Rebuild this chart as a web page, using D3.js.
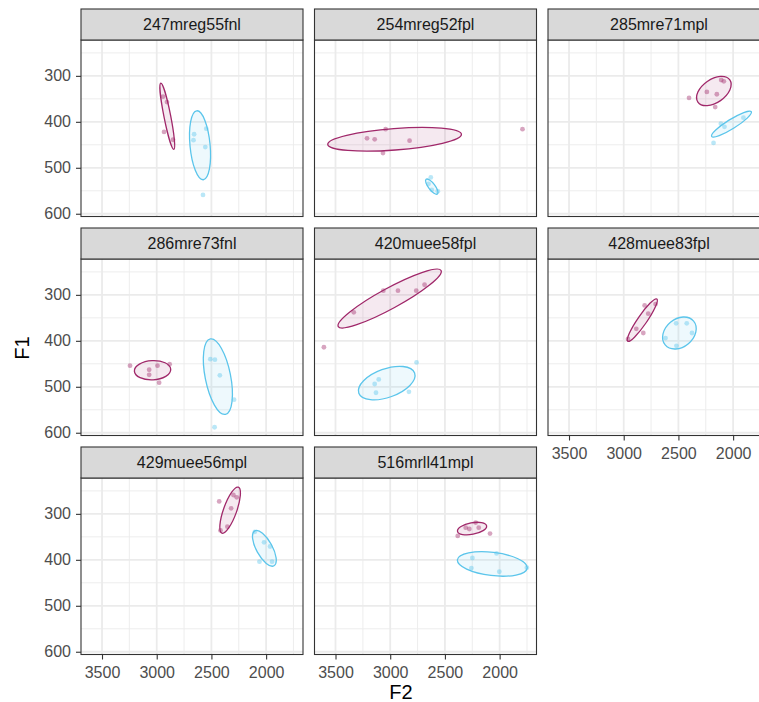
<!DOCTYPE html>
<html>
<head>
<meta charset="utf-8">
<script src="https://cdn.jsdelivr.net/npm/d3@7"></script>
<style>
  html, body { margin: 0; padding: 0; background: #fff; }
  svg { display: block; font-family: "Liberation Sans", Arial, sans-serif; }
</style>
</head>
<body>
<svg id="chart" width="759" height="702"></svg>
<script>
// ---------------- data ----------------
const panels = ["247mreg55fnl","254mreg52fpl","285mre71mpl","286mre73fnl",
                "420muee58fpl","428muee83fpl","429muee56mpl","516mrll41mpl"];

const xTicks = [3500, 3000, 2500, 2000];
const xMinorTicks = [3250, 2750, 2250, 1750];
const yTicks = [300, 400, 500, 600];
const yMinorTicks = [250, 350, 450, 550];

// group A (purple) points per panel
const groupA_F2 = [
  [2942, 2906, 2933, 2851],
  [3212, 3142, 3042, 2823, 3066, 1791],
  [2403, 2240, 2149, 2164, 2109, 2085],
  [3244, 3069, 3069, 2993, 2882, 2978],
  [3333, 3063, 2929, 2762, 2686, 3606],
  [2961, 2885, 2821, 2776, 2809, 2709],
  [2429, 2320, 2299, 2269, 2354, 2417],
  [2383, 2310, 2277, 2219, 2191, 2088]
];
const groupA_F1 = [
  [345, 357, 422, 439],
  [436, 438, 416, 441, 468, 416],
  [348, 335, 340, 368, 309, 312],
  [454, 463, 474, 454, 451, 491],
  [338, 291, 291, 291, 278, 414],
  [396, 374, 383, 341, 323, 320],
  [273, 288, 259, 264, 328, 336],
  [348, 330, 333, 319, 330, 343]
];

// group B (blue) points per panel
const groupB_F2 = [
  [2547, 2658, 2664, 2556, 2577],
  [2650, 2620, 2629, 2565],
  [1906, 2079, 2112, 2179],
  [2510, 2468, 2423, 2293, 2471],
  [2759, 3105, 3142, 3130, 2829],
  [2521, 2424, 2376, 2618, 2518],
  [2103, 2019, 1964, 1946, 2061],
  [2249, 2258, 2028, 2003, 1751]
];
const groupB_F1 = [
  [415, 427, 440, 455, 559],
  [535, 548, 521, 551],
  [391, 411, 404, 446],
  [440, 441, 475, 528, 588],
  [447, 484, 494, 513, 511],
  [362, 362, 383, 394, 411],
  [339, 362, 371, 404, 404],
  [396, 418, 386, 426, 417]
];

// ellipses: centre, end of major axis (data units), minor/major ratio
const ellA_cF2 = [2903, 2960, 2176, 3038, 3005, 2830, 2329, 2252];
const ellA_cF1 = [388, 438, 333, 464, 308, 355, 292, 332];
const ellA_eF2 = [2963, 2349, 2030, 2872, 2535, 2697, 2254, 2119];
const ellA_eF1 = [316, 427, 309, 462, 247, 309, 242, 326];
const ellA_ratio = [0.1, 0.16, 0.6, 0.53, 0.175, 0.18, 0.27, 0.39];

const ellB_cF2 = [2604, 2620, 2015, 2441, 3032, 2491, 2016, 2067];
const ellB_cF1 = [451, 541, 405, 478, 492, 383, 375, 409];
const ellB_eF2 = [2634, 2568, 1834, 2510, 2777, 2361, 1928, 1748];
const ellB_eF1 = [376, 557, 378, 396, 470, 357, 413, 418];
const ellB_ratio = [0.29, 0.35, 0.2, 0.33, 0.48, 0.75, 0.4, 0.33];

// ---------------- layout ----------------
const colA = "#A0286A", colB = "#5BC5EB";
const svg = d3.select("#chart");
const panelW = 222, panelH = 176.5, stripH = 31;
const colLeft = [81, 314.5, 548];
const rowTop = [40, 259, 478];

const x = d3.scaleLinear().domain([3692, 1663]).range([0, panelW]);
const y = d3.scaleLinear().domain([222, 606]).range([0, panelH]);
const fmt = d3.format("d");

const defs = svg.append("defs");
defs.append("clipPath").attr("id", "pclip")
  .append("rect").attr("width", panelW).attr("height", panelH);

panels.forEach((name, i) => {
  const c = i % 3, r = Math.floor(i / 3);
  const g = svg.append("g").attr("transform", `translate(${colLeft[c]},${rowTop[r]})`);

  g.append("rect").attr("width", panelW).attr("height", panelH).attr("fill", "#fff");

  const grid = g.append("g");
  grid.selectAll(".vmin").data(xMinorTicks).join("line")
    .attr("x1", d => x(d)).attr("x2", d => x(d)).attr("y1", 0).attr("y2", panelH)
    .attr("stroke", "#EBEBEB").attr("stroke-width", 0.9);
  grid.selectAll(".hmin").data(yMinorTicks).join("line")
    .attr("y1", d => y(d)).attr("y2", d => y(d)).attr("x1", 0).attr("x2", panelW)
    .attr("stroke", "#EBEBEB").attr("stroke-width", 0.9);
  grid.selectAll(".vmaj").data(xTicks).join("line")
    .attr("x1", d => x(d)).attr("x2", d => x(d)).attr("y1", 0).attr("y2", panelH)
    .attr("stroke", "#EBEBEB").attr("stroke-width", 1.8);
  grid.selectAll(".hmaj").data(yTicks).join("line")
    .attr("y1", d => y(d)).attr("y2", d => y(d)).attr("x1", 0).attr("x2", panelW)
    .attr("stroke", "#EBEBEB").attr("stroke-width", 1.8);

  const content = g.append("g").attr("clip-path", "url(#pclip)");

  function drawEllipse(cF2, cF1, eF2, eF1, ratio, col) {
    const cx = x(cF2), cy = y(cF1), ex = x(eF2), ey = y(eF1);
    const a = Math.hypot(ex - cx, ey - cy);
    const ang = Math.atan2(ey - cy, ex - cx) * 180 / Math.PI;
    content.append("ellipse")
      .attr("cx", cx).attr("cy", cy).attr("rx", a).attr("ry", a * ratio)
      .attr("transform", `rotate(${ang},${cx},${cy})`)
      .attr("fill", col).attr("fill-opacity", 0.1)
      .attr("stroke", col).attr("stroke-width", 1.3);
  }
  drawEllipse(ellA_cF2[i], ellA_cF1[i], ellA_eF2[i], ellA_eF1[i], ellA_ratio[i], colA);
  drawEllipse(ellB_cF2[i], ellB_cF1[i], ellB_eF2[i], ellB_eF1[i], ellB_ratio[i], colB);

  const ptsA = groupA_F2[i].map((v, k) => [v, groupA_F1[i][k]]);
  const ptsB = groupB_F2[i].map((v, k) => [v, groupB_F1[i][k]]);
  content.selectAll(".pa").data(ptsA).join("circle")
    .attr("cx", d => x(d[0])).attr("cy", d => y(d[1])).attr("r", 2.4)
    .attr("fill", colA).attr("fill-opacity", 0.42);
  content.selectAll(".pb").data(ptsB).join("circle")
    .attr("cx", d => x(d[0])).attr("cy", d => y(d[1])).attr("r", 2.4)
    .attr("fill", colB).attr("fill-opacity", 0.42);

  g.append("rect").attr("width", panelW).attr("height", panelH)
    .attr("fill", "none").attr("stroke", "#333333").attr("stroke-width", 1.1);

  g.append("rect").attr("y", -stripH).attr("width", panelW).attr("height", stripH)
    .attr("fill", "#D9D9D9").attr("stroke", "#333333").attr("stroke-width", 1.1);
  g.append("text").attr("x", panelW / 2).attr("y", -stripH / 2)
    .attr("dy", "0.35em").attr("text-anchor", "middle")
    .attr("font-size", 16).attr("fill", "#1A1A1A").text(name);

  if (c === 0) {
    const ya = g.append("g").call(d3.axisLeft(y).tickValues(yTicks).tickFormat(fmt).tickSize(5).tickPadding(5));
    ya.select(".domain").remove();
    ya.selectAll("line").attr("stroke", "#333333").attr("stroke-width", 1.1);
    ya.selectAll("text").attr("font-size", 16).attr("fill", "#4D4D4D")
      .attr("font-family", "Liberation Sans, Arial, sans-serif");
  }
  if (i + 3 >= panels.length) {
    const xa = g.append("g").attr("transform", `translate(0,${panelH})`)
      .call(d3.axisBottom(x).tickValues(xTicks).tickFormat(fmt).tickSize(5).tickPadding(7));
    xa.select(".domain").remove();
    xa.selectAll("line").attr("stroke", "#333333").attr("stroke-width", 1.1);
    xa.selectAll("text").attr("font-size", 16).attr("fill", "#4D4D4D")
      .attr("font-family", "Liberation Sans, Arial, sans-serif");
  }
});

svg.append("text").attr("x", 401).attr("y", 699).attr("text-anchor", "middle")
  .attr("font-size", 20).attr("fill", "#000").text("F2");
svg.append("text").attr("transform", "translate(29,348) rotate(-90)")
  .attr("text-anchor", "middle").attr("font-size", 20).attr("fill", "#000").text("F1");
</script>
</body>
</html>
